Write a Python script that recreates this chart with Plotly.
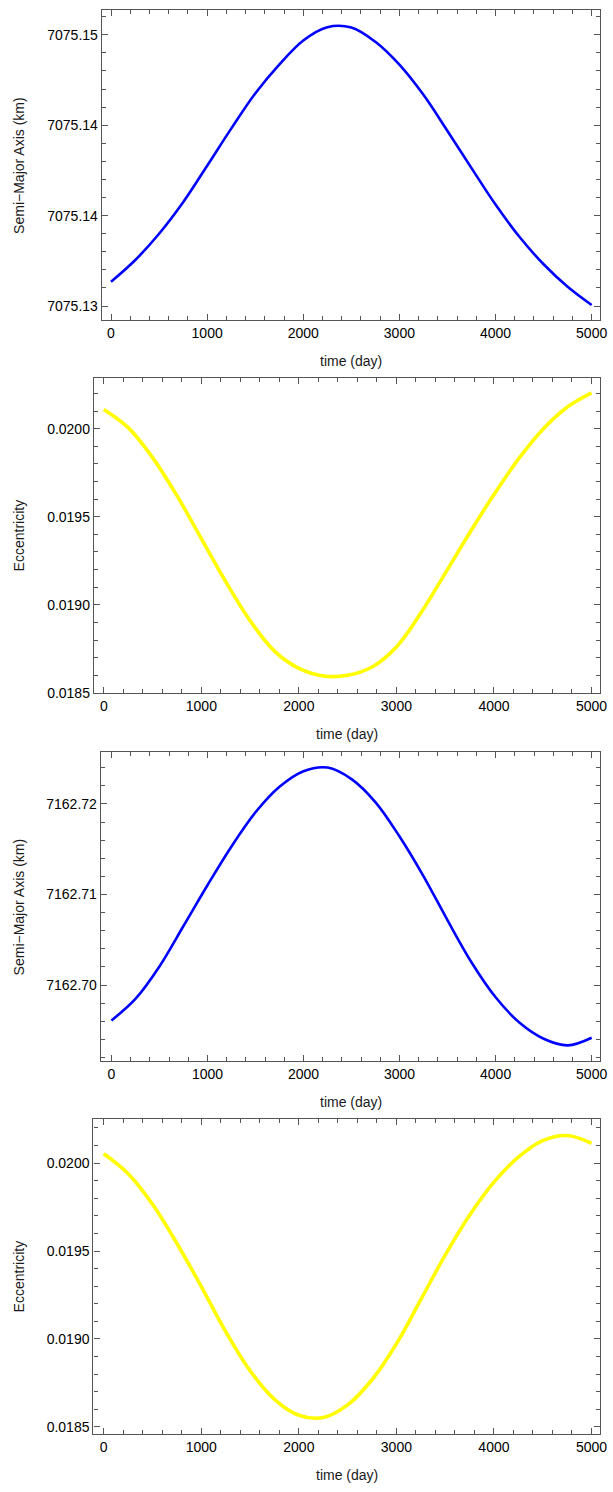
import plotly.graph_objects as go

# ---------------- data ----------------
time_days = [0, 250, 500, 750, 1000, 1250, 1500, 1750, 2000, 2250, 2500,
             2750, 3000, 3250, 3500, 3750, 4000, 4250, 4500, 4750, 5000]

sma_1 = [7075.136340, 7075.137532, 7075.138999, 7075.140741, 7075.142758, 7075.144811, 7075.146755,
         7075.148350, 7075.149688, 7075.150422, 7075.150403, 7075.149615, 7075.148350, 7075.146681,
         7075.144683, 7075.142629, 7075.140612, 7075.138816, 7075.137312, 7075.136065, 7075.135057]

ecc_1 = [0.020109, 0.020006, 0.019836, 0.019620, 0.019376, 0.019132, 0.018910, 0.018737, 0.018639,
         0.018596, 0.018600, 0.018647, 0.018761, 0.018953, 0.019179, 0.019408, 0.019626, 0.019827,
         0.019996, 0.020122, 0.020203]

sma_2 = [7162.696081, 7162.698462, 7162.702051, 7162.706520, 7162.711026, 7162.715311, 7162.719084,
         7162.721905, 7162.723626, 7162.724029, 7162.722747, 7162.720183, 7162.716410, 7162.712015,
         7162.707143, 7162.702491, 7162.698645, 7162.695824, 7162.694066, 7162.693333, 7162.694176]

ecc_2 = [0.020053, 0.019940, 0.019766, 0.019543, 0.019298, 0.019042, 0.018819, 0.018657, 0.018566,
         0.018553, 0.018625, 0.018768, 0.018972, 0.019223, 0.019477, 0.019704, 0.019892, 0.020034,
         0.020128, 0.020157, 0.020113]

x_ticks = [0, 1000, 2000, 3000, 4000, 5000]
y1_ticks = [7075.135, 7075.140, 7075.145, 7075.150]
y1_text = ["7075.13", "7075.14", "7075.14", "7075.15"]
y2_ticks = [0.0185, 0.0190, 0.0195, 0.0200]
y2_text = ["0.0185", "0.0190", "0.0195", "0.0200"]
y3_ticks = [7162.70, 7162.71, 7162.72]
y3_text = ["7162.70", "7162.71", "7162.72"]
y4_ticks = [0.0185, 0.0190, 0.0195, 0.0200]
y4_text = ["0.0185", "0.0190", "0.0195", "0.0200"]

x_label = "time (day)"
y_label_a = "Semi\u2212Major Axis (km)"
y_label_e = "Eccentricity"

# ---------------- layout geometry ----------------
W, H = 613, 1492
FONT = "Liberation Sans, Arial, sans-serif"
FRAME = "#555555"
FS = 14

panels = [
    dict(px=(103, 607.4), py=(10, 322), xr=[-95.6, 5091.5], yr=[7075.134214, 7075.151375],
         y=sma_1, color="#0000ff", width=2.6, yt=y1_ticks, ytt=y1_text, ydt=0.001, y0=7075.135, title=y_label_a),
    dict(px=(95, 607.4), py=(380, 697), xr=[-101.4, 5092], yr=[0.018498, 0.020288],
         y=ecc_1, color="#ffff00", width=3.6, yt=y2_ticks, ytt=y2_text, ydt=0.0001, y0=0.0185, title=y_label_e),
    dict(px=(102, 607.4), py=(756, 1067), xr=[-110, 5091.6], yr=[7162.691575, 7162.725751],
         y=sma_2, color="#0000ff", width=2.6, yt=y3_ticks, ytt=y3_text, ydt=0.002, y0=7162.70, title=y_label_a),
    dict(px=(94.5, 607.4), py=(1125, 1442), xr=[-106, 5092], yr=[0.018458, 0.020251],
         y=ecc_2, color="#ffff00", width=3.6, yt=y4_ticks, ytt=y4_text, ydt=0.0001, y0=0.0185, title=y_label_e),
]

fig = go.Figure()
layout = dict(
    width=W, height=H,
    margin=dict(l=0, r=0, t=0, b=0),
    paper_bgcolor="white", plot_bgcolor="white",
    showlegend=False,
    font=dict(family=FONT, size=FS, color="#000000"),
    annotations=[],
)

for i, p in enumerate(panels, start=1):
    xn = "x" if i == 1 else f"x{i}"
    yn = "y" if i == 1 else f"y{i}"
    fig.add_trace(go.Scatter(x=time_days, y=p["y"], mode="lines",
                             line=dict(color=p["color"], width=p["width"], shape="spline", smoothing=1.0),
                             xaxis=xn, yaxis=yn, hoverinfo="skip"))
    xd = [p["px"][0] / W, p["px"][1] / W]
    yd = [1 - p["py"][1] / H, 1 - p["py"][0] / H]
    common = dict(showline=True, linecolor=FRAME, linewidth=1.3, mirror="allticks",
                  ticks="inside", ticklen=6, tickcolor=FRAME, tickwidth=1,
                  showgrid=False, zeroline=False, ticklabeloverflow="allow",
                  tickfont=dict(family=FONT, size=FS, color="#000000"))
    layout["xaxis" if i == 1 else f"xaxis{i}"] = dict(
        domain=xd, anchor=yn, range=p["xr"], tickvals=x_ticks,
        ticktext=[str(v) for v in x_ticks],
        minor=dict(ticks="inside", ticklen=4, tickcolor=FRAME, dtick=200, tick0=0, showgrid=False),
        **common)
    layout["yaxis" if i == 1 else f"yaxis{i}"] = dict(
        domain=yd, anchor=xn, range=p["yr"], tickvals=p["yt"], ticktext=p["ytt"],
        minor=dict(ticks="inside", ticklen=4, tickcolor=FRAME, dtick=p["ydt"], tick0=p["y0"], showgrid=False),
        **common)
    layout["annotations"].append(dict(
        text=x_label, xref="paper", yref="paper",
        x=(p["px"][0] + p["px"][1]) / 2 / W, y=1 - (p["py"][1] + 41) / H,
        xanchor="center", yanchor="middle", showarrow=False,
        font=dict(family=FONT, size=FS, color="#1a1a1a")))
    layout["annotations"].append(dict(
        text=p["title"], xref="paper", yref="paper",
        x=19 / W, y=1 - (p["py"][0] + p["py"][1]) / 2 / H,
        xanchor="center", yanchor="middle", textangle=-90, showarrow=False,
        font=dict(family=FONT, size=FS, color="#1a1a1a")))

fig.update_layout(**layout)
fig.write_html("out.html")
